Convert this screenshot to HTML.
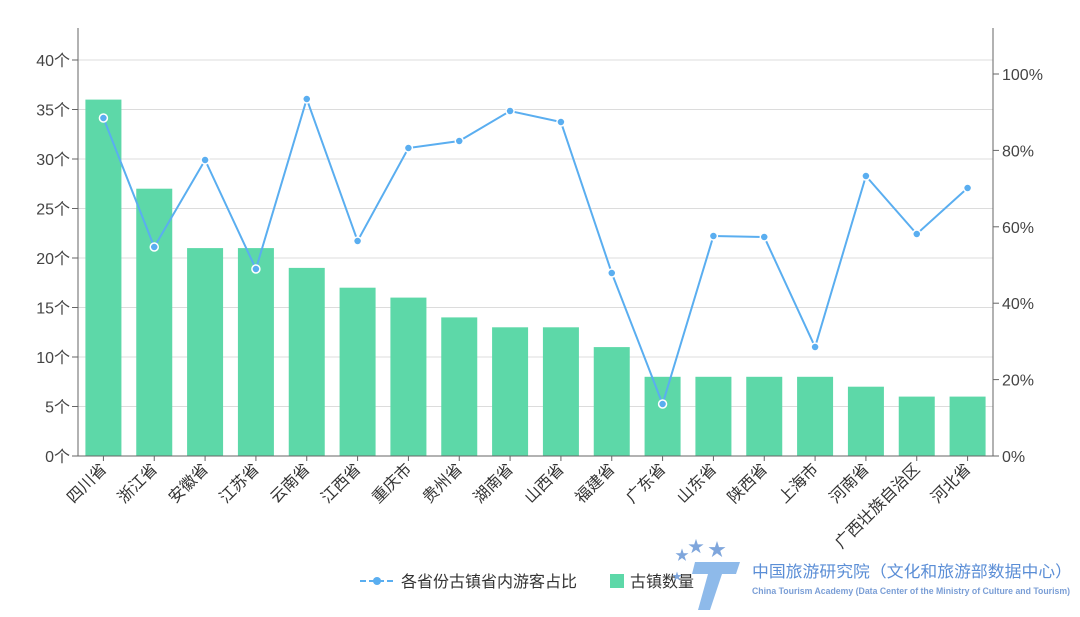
<!DOCTYPE html>
<html><head><meta charset="utf-8"><style>
body{margin:0;background:#fff;width:1080px;height:612px;overflow:hidden;font-family:"Liberation Sans","Noto Sans CJK SC",sans-serif}
</style></head><body>
<svg id="s" width="1080" height="612" xmlns="http://www.w3.org/2000/svg" font-family="'Liberation Sans','Noto Sans CJK SC',sans-serif"></svg>
<script>
const s=document.getElementById('s');let h='';
const L=78,R=993,B=456,T=28,u=9.9;
for(let v=5;v<=40;v+=5){const y=B-v*u;h+=`<line x1="${L}" x2="${R}" y1="${y}" y2="${y}" stroke="#dcdcdc" stroke-width="1"/>`;}
for(let v=0;v<=40;v+=5){const y=B-v*u;h+=`<line x1="72" x2="${L}" y1="${y}" y2="${y}" stroke="#666"/><text x="70" y="${y+6}" font-size="16" fill="#444" text-anchor="end">${v}个</text>`;}
for(let p=0;p<=100;p+=20){const y=B-p*3.82;h+=`<line x1="${R}" x2="${R+6}" y1="${y}" y2="${y}" stroke="#666"/><text x="${R+9}" y="${y+6}" font-size="16" fill="#444">${p}%</text>`;}
const n=["四川省","浙江省","安徽省","江苏省","云南省","江西省","重庆市","贵州省","湖南省","山西省","福建省","广东省","山东省","陕西省","上海市","河南省","广西壮族自治区","河北省"];
const v=[36,27,21,21,19,17,16,14,13,13,11,8,8,8,8,7,6,6];
const ly=[118,247,160,269,99,241,148,141,111,122,273,404,236,237,347,176,234,188];
const w=(R-L)/18;let pts=[];
n.forEach((t,i)=>{const c=L+w*(i+0.5);const y=B-v[i]*u;
h+=`<rect x="${c-18}" y="${y}" width="36" height="${B-y}" fill="#5dd8a8"/>`;
h+=`<line x1="${c}" x2="${c}" y1="${B}" y2="${B+5}" stroke="#666"/>`;
h+=`<text transform="translate(${c+4},${B+14}) rotate(-45)" font-size="16" fill="#333" text-anchor="end">${t}</text>`;
pts.push(c+','+ly[i]);});
h+=`<line x1="${L}" x2="${L}" y1="${T}" y2="${B}" stroke="#666"/><line x1="${R}" x2="${R}" y1="${T}" y2="${B}" stroke="#666"/><line x1="${L}" x2="${R}" y1="${B}" y2="${B}" stroke="#666"/>`;
h+=`<polyline points="${pts.join(' ')}" fill="none" stroke="#5aaef0" stroke-width="2"/>`;
pts.forEach(p=>{const [x,y]=p.split(',');h+=`<circle cx="${x}" cy="${y}" r="4" fill="#5aaef0" stroke="#fff" stroke-width="1.5"/>`;});
h+=`<line x1="360" x2="394" y1="581" y2="581" stroke="#5aaef0" stroke-width="2" stroke-dasharray="6,3"/><circle cx="377" cy="581" r="4" fill="#5aaef0"/>`;
h+=`<text x="401" y="587" font-size="16" fill="#333">各省份古镇省内游客占比</text>`;
h+=`<rect x="610" y="574" width="14" height="14" fill="#5dd8a8"/><text x="630" y="587" font-size="16" fill="#333">古镇数量</text>`;
h+=`<g fill="#7fa6dc"><text x="675" y="560" font-size="14">★</text><text x="688" y="552" font-size="16">★</text><text x="708" y="556" font-size="18">★</text><text x="672" y="580" font-size="10">★</text></g>`;
h+=`<path d="M695 562 L740 562 L736 574 L722 574 L710 610 L698 610 L708 574 L692 574 Z" fill="#7aaee6" opacity="0.85"/>`;
h+=`<text x="752" y="577" font-size="16" fill="#5b8ed6" textLength="320" lengthAdjust="spacingAndGlyphs">中国旅游研究院（文化和旅游部数据中心）</text>`;
h+=`<text x="752" y="594" font-size="9" font-weight="bold" fill="#7a9ed6" textLength="318" lengthAdjust="spacingAndGlyphs">China Tourism Academy (Data Center of the Ministry of Culture and Tourism)</text>`;
s.innerHTML=h;
</script>
</body></html>
